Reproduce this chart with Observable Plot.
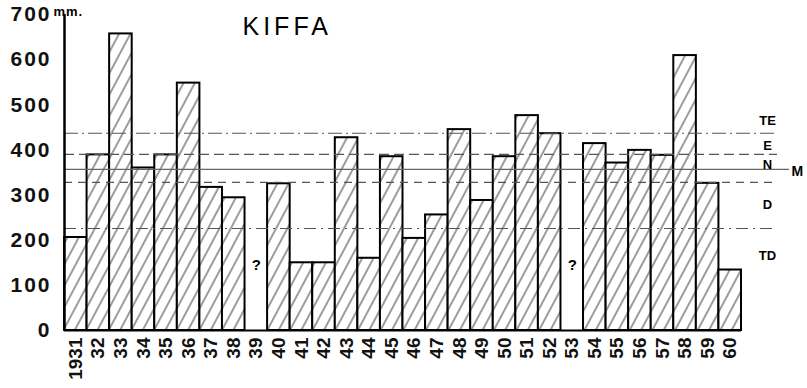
<!DOCTYPE html>
<html><head><meta charset="utf-8">
<script src="https://cdn.jsdelivr.net/npm/d3@7"></script>
<script src="https://cdn.jsdelivr.net/npm/@observablehq/plot@0.6"></script>
<style>
body{margin:0;background:#fff;}
#chart svg{background:#fff;font-family:"Liberation Sans",Arial,sans-serif;}
.yax text{letter-spacing:2px;}
.ttl text{letter-spacing:4px;}
.unit text{letter-spacing:1px;}
</style>
</head><body><div id="chart"></div>
<script>
// Annual rainfall at Kiffa (mm), 1931-1960; null = missing year ("?")
const years = d3.range(1931, 1961);
const rainfall = [206,389,657,360,389,548,317,294,null,325,150,150,427,160,385,204,256,445,288,385,476,436,null,414,371,399,388,609,326,134];
const yTicks = [0,100,200,300,400,500,600,700];
// class boundaries (mm) and mean
const boundaryValues = [437,390,357,328,226];
const boundaryKinds  = ["TE","E","M","N","D"];
const boundaryDash   = ["14,4,2,4","10,5",null,"8,6","12,5,2,5"];
// class labels and where they sit (mm)
const classNames  = ["TE","E","N","D","TD"];
const classLevels = [465,410,368,279,166];
const meanLabel = "M";
const meanLevel = 352;
const title = "KIFFA";
const unit = "mm.";

const bars = years.map((y,i)=>({year:y, value:rainfall[i]})).filter(d=>d.value!=null);
const missing = years.filter((y,i)=>rainfall[i]==null);
const boundaries = boundaryValues.map((v,i)=>({value:v, kind:boundaryKinds[i], dash:boundaryDash[i]}));

const ruleMarks = boundaries.map(b => Plot.ruleY([b.value], {
  stroke: b.kind==="M" ? "#666" : "#555",
  strokeWidth: b.kind==="M" ? 1.3 : 1.2,
  strokeDasharray: b.dash || undefined,
  insetRight: b.kind==="M" ? -48 : -36
}));

const W = 807, ML = 64, MR = 66;
const halfBand = (W - ML - MR) / years.length / 2;

const svg = Plot.plot({
  width: W, height: 388,
  marginLeft: ML, marginRight: MR, marginTop: 14, marginBottom: 58,
  x: {type:"band", domain: years, padding: 0, round: false, axis: null, label: null},
  y: {domain:[0,700], axis: null, label: null},
  marks: [
    Plot.barY(bars, {x:"year", y:"value", fill:"url(#hatch)", stroke:"#000", strokeWidth:2}),
    ...ruleMarks,
    Plot.ruleY([0], {stroke:"#000", strokeWidth:2}),
    Plot.ruleX([years[0]], {y1:0, y2:700, stroke:"#000", strokeWidth:2.5, dx:-halfBand}),
    Plot.axisY(yTicks, {tickSize:0, tickPadding:13, fontSize:21, fontWeight:"bold", className:"yax", fill:"#111", label:null}),
    Plot.axisX(years, {tickSize:0, tickPadding:7, tickRotate:-90, fontSize:19, fontWeight:"bold", label:null,
      tickFormat: y => y===1931 ? "1931" : String(y).slice(2), fill:"#111"}),
    Plot.text(missing, {x: d=>d, y: ()=>144, text: ()=>"?", fontSize:15, fontWeight:"bold"}),
    Plot.text(classNames, {y:(d,i)=>classLevels[i], text:d=>d, frameAnchor:"right", dx:26, fontSize:13, fontWeight:"bold", textAnchor:"middle"}),
    Plot.text([meanLabel], {y:()=>meanLevel, text:d=>d, frameAnchor:"right", dx:50, fontSize:14, fontWeight:"bold", textAnchor:"start"}),
    Plot.text([title], {frameAnchor:"top-left", dx:178, dy:3, fontSize:25, text:d=>d, textAnchor:"start", className:"ttl"}),
    Plot.text([unit], {frameAnchor:"top-left", dx:-11, dy:-8, fontSize:13, fontWeight:"bold", text:d=>d, textAnchor:"start", className:"unit"})
  ]
});

const ns = "http://www.w3.org/2000/svg";
const defs = document.createElementNS(ns, "defs");
defs.innerHTML = `<pattern id="hatch" patternUnits="userSpaceOnUse" width="10" height="10" patternTransform="rotate(28)">
  <rect width="10" height="10" fill="#fff"/>
  <line x1="1" y1="0" x2="1" y2="10" stroke="#222" stroke-width="0.9"/>
</pattern>`;
svg.insertBefore(defs, svg.firstChild);
document.getElementById("chart").appendChild(svg);
</script>
</body></html>
